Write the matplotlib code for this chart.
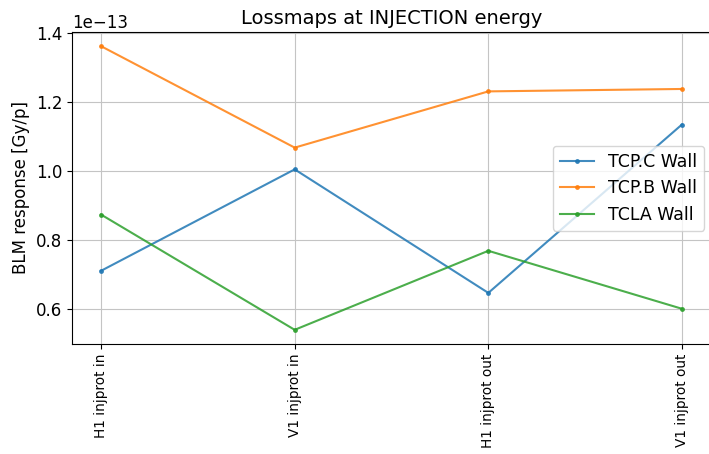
import matplotlib
matplotlib.use("Agg")
import matplotlib.pyplot as plt

scenarios = ["H1 injprot in", "V1 injprot in", "H1 injprot out", "V1 injprot out"]
tcp_c = [0.712e-13, 1.006e-13, 0.648e-13, 1.136e-13]
tcp_b = [1.363e-13, 1.069e-13, 1.232e-13, 1.239e-13]
tcla = [0.875e-13, 0.541e-13, 0.770e-13, 0.602e-13]

W, H = 709, 454
fig = plt.figure(figsize=(W / 100, H / 100), dpi=100)
ax = fig.add_axes([72 / W, 1 - 344 / H, 639 / W, 312 / H])

x = range(len(scenarios))
style = dict(marker=".", markersize=5, lw=1.5, alpha=0.85)
ax.plot(x, tcp_c, label="TCP.C Wall", **style)
ax.plot(x, tcp_b, label="TCP.B Wall", **style)
ax.plot(x, tcla, label="TCLA Wall", **style)

ax.set_xticks(list(x))
ax.set_xticklabels(scenarios, rotation=90, fontsize=9.8)
ax.tick_params(axis="y", labelsize=12)
ax.yaxis.get_offset_text().set_fontsize(12)
ax.set_ylabel("BLM response [Gy/p]", fontsize=12)
ax.set_title("Lossmaps at INJECTION energy", fontsize=14)
ax.grid(True, color="#c4c4c4", lw=0.8)
ax.legend(fontsize=12.5, loc="upper right", bbox_to_anchor=(713 / W, 1 - 137 / H),
          bbox_transform=fig.transFigure)

fig.savefig("out.png", dpi=100)
